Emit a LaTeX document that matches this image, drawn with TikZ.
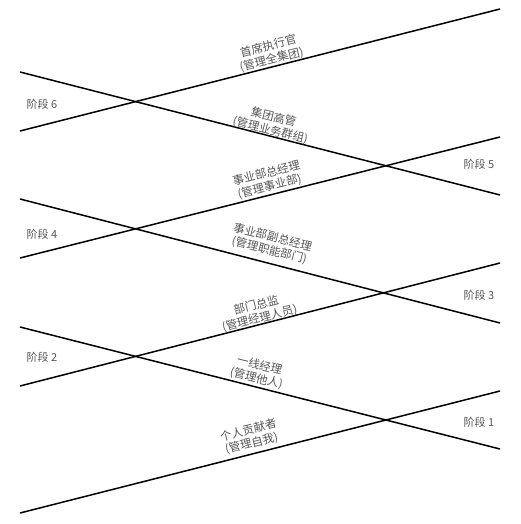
\documentclass[tikz,border=0pt]{standalone}
\usepackage{fontspec}
\newfontfamily\cjk{Noto Sans CJK SC}
\definecolor{txtgray}{HTML}{555555}
\begin{document}
\begin{tikzpicture}[x=1pt,y=-1pt,
  ln/.style={line width=1.5pt,black},
  role/.style={font=\cjk\fontsize{11.5}{13.5}\selectfont,text=txtgray,align=center,inner sep=0pt},
  stage/.style={font=\cjk\fontsize{11}{13}\selectfont,text=txtgray,inner sep=0pt}]
\useasboundingbox (0,0) rectangle (521,524);
% endpoints
\coordinate (u4a) at (20,131); \coordinate (u4b) at (500,9);
\coordinate (d1a) at (20,72);  \coordinate (d1b) at (500,195);
\coordinate (u3a) at (20,258); \coordinate (u3b) at (500,137);
\coordinate (d2a) at (20,199); \coordinate (d2b) at (500,323);
\coordinate (u2a) at (20,386); \coordinate (u2b) at (500,263);
\coordinate (d3a) at (20,327); \coordinate (d3b) at (500,449);
\coordinate (u1a) at (20,513); \coordinate (u1b) at (500,391);
\draw[ln] (u4a) -- (u4b);
\draw[ln] (d1a) -- (d1b);
\draw[ln] (u3a) -- (u3b);
\draw[ln] (d2a) -- (d2b);
\draw[ln] (u2a) -- (u2b);
\draw[ln] (d3a) -- (d3b);
\draw[ln] (u1a) -- (u1b);
% roles
\node[role,rotate=14]  (r7) at (270,53)  {首席执行官\\(管理全集团)};
\node[role,rotate=-14] (r6) at (272,124) {集团高管\\(管理业务群组)};
\node[role,rotate=14]  (r5) at (268,180) {事业部总经理\\(管理事业部)};
\node[role,rotate=-14] (r4) at (271,244) {事业部副总经理\\(管理职能部门)};
\node[role,rotate=14]  (r3) at (258,312) {部门总监\\(管理经理人员)};
\node[role,rotate=-14] (r2) at (258,372) {一线经理\\(管理他人)};
\node[role,rotate=14]  (r1) at (250,437) {个人贡献者\\(管理自我)};
% stages
\node[stage] (s6) at (42,104) {阶段 6};
\node[stage] (s5) at (479,164) {阶段 5};
\node[stage] (s4) at (42,234) {阶段 4};
\node[stage] (s3) at (479,295) {阶段 3};
\node[stage] (s2) at (42,357) {阶段 2};
\node[stage] (s1) at (479,422) {阶段 1};
\end{tikzpicture}
\end{document}
